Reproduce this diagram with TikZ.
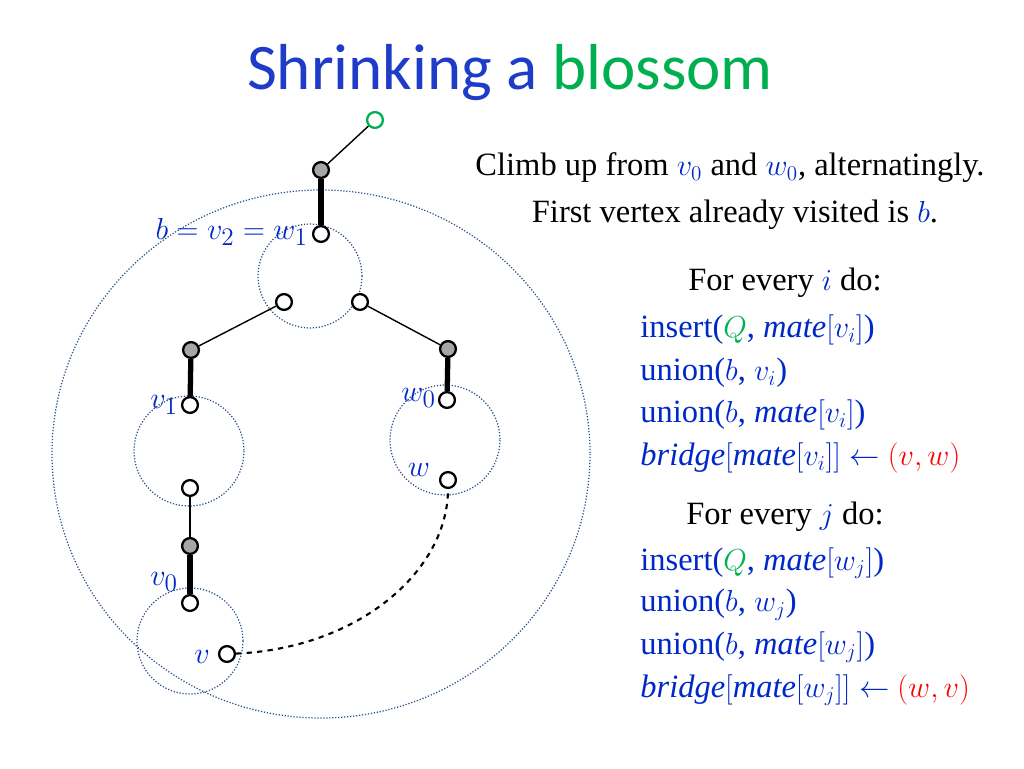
\documentclass[tikz,border=0pt]{standalone}
\usepackage{fontspec}
\setmainfont{Liberation Serif}
\newfontfamily\titlefont{Carlito}
\usetikzlibrary{calc}
\definecolor{tblue}{RGB}{30,60,200}
\definecolor{mblue}{RGB}{0,40,200}
\definecolor{tgreen}{RGB}{0,176,80}
\definecolor{cdot}{RGB}{40,80,140}
\newcommand{\mb}[1]{\textcolor{mblue}{$#1$}}
\begin{document}
\begin{tikzpicture}[x=0.02cm,y=-0.02cm,
  vtx/.style={circle,draw,line width=1.3pt,fill=white,inner sep=0pt,minimum size=9pt},
  gvtx/.style={vtx,fill=gray!70},
  thick edge/.style={line width=3pt},
  thin edge/.style={line width=0.8pt},
  blob/.style={draw=cdot,densely dotted,line width=0.7pt},
  lbl/.style={font=\fontsize{19}{22}\selectfont,text=mblue,inner sep=1pt},
  txt/.style={font=\fontsize{18.5}{22}\selectfont,anchor=west,inner sep=0pt},
  ctxt/.style={font=\fontsize{18.5}{22}\selectfont}]
\useasboundingbox (0,0) rectangle (1024,768);
\node[font=\titlefont\fontsize{37}{44}\selectfont] (title) at (510,73) {\textcolor{tblue}{Shrinking a} \textcolor{tgreen}{blossom}};
% blobs
\draw[blob] (321,454) ellipse [x radius=269, y radius=264];
\draw[blob] (310,276) circle [radius=52];
\draw[blob] (189,451) circle [radius=55];
\draw[blob] (445,440) circle [radius=55];
\draw[blob] (190,641) circle [radius=53];
% vertices
\node[vtx,draw=tgreen] (g) at (375,120) {};
\node[gvtx] (n1) at (321,170) {};
\node[vtx] (n2) at (321,234) {};
\node[vtx] (n3) at (284,302) {};
\node[vtx] (n4) at (360,302) {};
\node[gvtx] (n5) at (191,350) {};
\node[vtx] (n6) at (190,405) {};
\node[gvtx] (n7) at (448,349) {};
\node[vtx] (n8) at (447,400) {};
\node[vtx] (n9) at (190,488) {};
\node[gvtx] (n10) at (190,546) {};
\node[vtx] (n11) at (190,603) {};
\node[vtx] (v) at (227,654) {};
\node[vtx] (w) at (448,480) {};
% edges
\draw[thin edge] (g) -- (n1);
\draw[thick edge] (n1) -- (n2);
\draw[thin edge] (n3) -- (n5);
\draw[thin edge] (n4) -- (n7);
\draw[thick edge] (n5) -- (n6);
\draw[thick edge] (n7) -- (n8);
\draw[thin edge] (n9) -- (n10);
\draw[thick edge] (n10) -- (n11);
\draw[dashed,line width=1.2pt] (v) .. controls (360,648) and (448,570) .. (w);
% labels
\node[lbl,anchor=east] (lb) at (310,232) {$b=v_2=w_1$};
\node[lbl,anchor=east] (lv1) at (180,405) {$v_1$};
\node[lbl,anchor=east] (lw0) at (438,398) {$w_0$};
\node[lbl,anchor=east] (lw) at (432,470) {$w$};
\node[lbl,anchor=east] (lv0) at (180,582) {$v_0$};
\node[lbl,anchor=east] (lv) at (212,657) {$v$};
% text
\node[ctxt] (t1) at (730,168) {Climb up from \mb{v_0} and \mb{w_0}, alternatingly.};
\node[ctxt] (t2) at (735,215) {First vertex already visited is \mb{b}.};
\node[ctxt] (f1) at (785,283) {For every \mb{i} do:};
\node[txt,text=mblue] (a1) at (640,330) {insert(\textcolor{tgreen}{$Q$}, $\mathit{mate}[v_i]$)};
\node[txt,text=mblue] (a2) at (640,373) {union($b$, $v_i$)};
\node[txt,text=mblue] (a3) at (640,415) {union($b$, $\mathit{mate}[v_i]$)};
\node[txt,text=mblue] (a4) at (640,458) {$\mathit{bridge}[\mathit{mate}[v_i]]\leftarrow$ \textcolor{red}{$(v,w)$}};
\node[ctxt] (f2) at (785,517) {For every \mb{j} do:};
\node[txt,text=mblue] (b1) at (640,563) {insert(\textcolor{tgreen}{$Q$}, $\mathit{mate}[w_j]$)};
\node[txt,text=mblue] (b2) at (640,605) {union($b$, $w_j$)};
\node[txt,text=mblue] (b3) at (640,647) {union($b$, $\mathit{mate}[w_j]$)};
\node[txt,text=mblue] (b4) at (640,690) {$\mathit{bridge}[\mathit{mate}[w_j]]\leftarrow$ \textcolor{red}{$(w,v)$}};
\end{tikzpicture}
\end{document}
